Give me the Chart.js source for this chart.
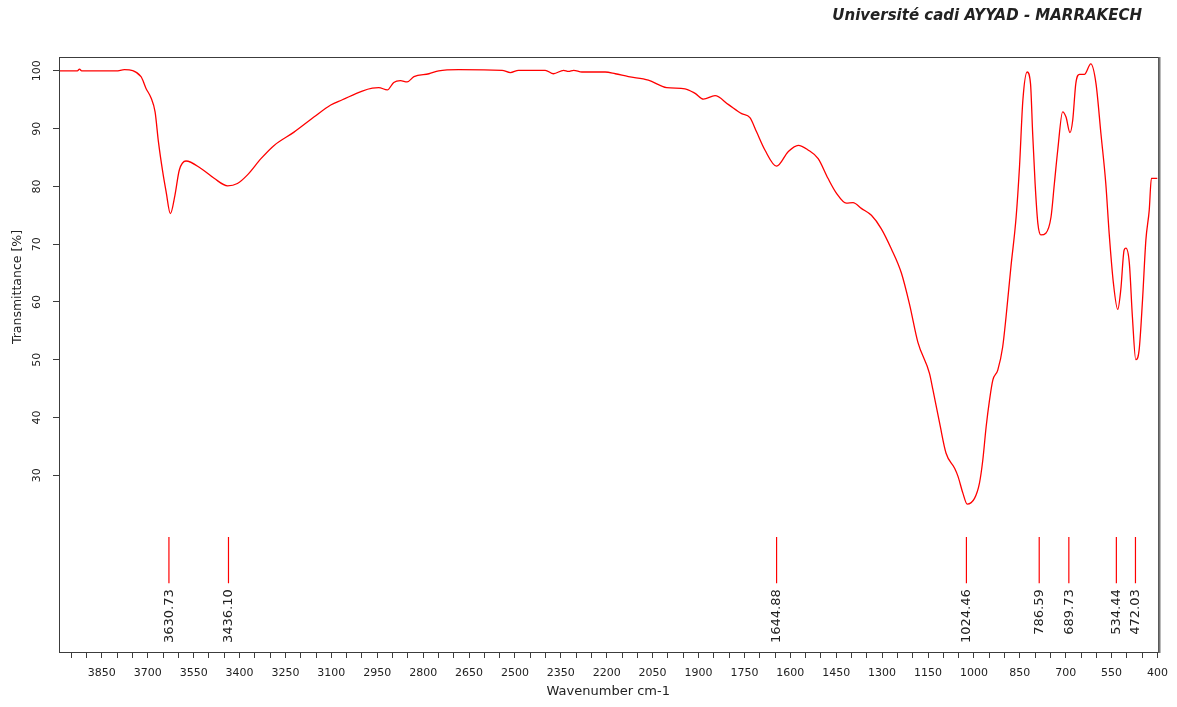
<!DOCTYPE html>
<html>
<head>
<meta charset="utf-8">
<script src="https://cdn.jsdelivr.net/npm/chart.js@4.4.1/dist/chart.umd.min.js"></script>
<style>
  html, body { margin: 0; padding: 0; background: #ffffff; }
  #wrap { width: 1177px; height: 707px; position: relative; }
</style>
</head>
<body>
<div id="wrap"><canvas id="c" width="1177" height="707"></canvas></div>
<script>
// ---- data ----
const wavenumbers = [
  3990, 3930, 3923, 3916, 3803, 3776, 3722, 3706, 3689, 3676, 3665, 3651, 3640, 3626,
  3611, 3597, 3575, 3526, 3483, 3439, 3407, 3374, 3330, 3287, 3222, 3157, 3102, 3064,
  2999, 2966, 2945, 2917, 2896, 2874, 2852, 2830, 2781, 2749, 2684, 2542, 2515, 2488,
  2401, 2374, 2341, 2325, 2308, 2281, 2205, 2172, 2129, 2064, 2004, 1944, 1911, 1884,
  1846, 1803, 1759, 1732, 1710, 1683, 1645, 1607, 1574, 1542, 1509, 1477, 1449, 1417,
  1395, 1368, 1335, 1303, 1270, 1237, 1210, 1183, 1145, 1134, 1112, 1091, 1063, 1052,
  1036, 1022, 998, 982, 971, 960, 949, 938, 922, 906, 895, 879, 862, 851,
  840, 826, 815, 808, 800, 791, 781, 765, 748, 737, 726, 710, 699, 686,
  677, 667, 655, 639, 618, 601, 585, 569, 558, 544, 530, 520, 509, 503,
  492, 482, 471, 460, 449, 438, 427, 420, 400
];
const transmittance = [
  100.0, 100.0, 100.3, 100.0, 100.0, 100.2, 99.0, 97.0, 95.3, 92.9, 87.7, 82.5, 79.1, 75.3,
  78.5, 82.8, 84.4, 83.1, 81.4, 80.1, 80.5, 82.0, 84.8, 87.1, 89.4, 92.0, 94.1, 95.0,
  96.5, 97.0, 97.1, 96.7, 98.0, 98.3, 98.1, 99.0, 99.5, 100.0, 100.2, 100.1, 99.7, 100.1,
  100.1, 99.5, 100.1, 99.9, 100.1, 99.8, 99.8, 99.5, 99.0, 98.4, 97.1, 96.9, 96.1, 95.1,
  95.7, 94.2, 92.6, 91.9, 89.4, 86.3, 83.5, 86.0, 87.1, 86.3, 84.8, 81.4, 78.8, 77.1,
  77.2, 76.2, 75.0, 72.7, 69.2, 65.0, 59.5, 53.0, 47.6, 44.8, 39.0, 33.8, 31.2, 29.8,
  26.9, 25.0, 26.0, 28.6, 32.6, 38.4, 43.0, 46.5, 48.2, 52.2, 57.4, 66.1, 74.7, 83.4,
  94.9, 99.8, 97.8, 89.2, 80.5, 73.6, 71.6, 71.9, 74.7, 80.5, 86.3, 92.9, 92.0, 89.3,
  91.5, 97.8, 99.4, 99.4, 101.2, 97.8, 89.2, 80.5, 71.9, 63.2, 58.7, 62.1, 69.0, 69.3,
  66.7, 57.4, 50.0, 51.7, 60.3, 70.7, 75.9, 81.4, 81.4
];
const peakPositions = [3630.73, 3436.10, 1644.88, 1024.46, 786.59, 689.73, 534.44, 472.03];
const peakLabels = ['3630.73', '3436.10', '1644.88', '1024.46', '786.59', '689.73', '534.44', '472.03'];
const yTickValues = [30, 40, 50, 60, 70, 80, 90, 100];
const xTickLabels = [3850, 3700, 3550, 3400, 3250, 3100, 2950, 2800, 2650, 2500, 2350, 2200,
  2050, 1900, 1750, 1600, 1450, 1300, 1150, 1000, 850, 700, 550, 400];
const xMinorTicks = [];
for (let v = 3950; v >= 400; v -= 50) xMinorTicks.push(v);

const titleText = 'Université cadi AYYAD - MARRAKECH';
const yTitleText = 'Transmittance [%]';
const xTitleText = 'Wavenumber cm-1';

// marker segments (in transmittance units, below the spectrum)
const markerTop = 19.3, markerBottom = 11.3;

const spectrum = wavenumbers.map((w, i) => ({ x: w, y: transmittance[i] }));
const markerData = [];
peakPositions.forEach(p => {
  markerData.push({ x: p, y: markerTop });
  markerData.push({ x: p, y: markerBottom });
  markerData.push({ x: p, y: null });
});

const FONT = "'DejaVu Sans', sans-serif";
const TXT = '#222222';

const decor = {
  id: 'decor',
  afterDatasetsDraw(chart) {
    const { ctx, chartArea: a, scales } = chart;
    const xs = scales.x, ys = scales.y;
    ctx.save();
    // frame
    ctx.strokeStyle = '#3c3c3c';
    ctx.lineWidth = 1;
    ctx.strokeRect(Math.round(a.left) + 0.5, Math.round(a.top) + 0.5,
      Math.round(a.right - a.left), Math.round(a.bottom - a.top));
    ctx.strokeStyle = '#777777';
    ctx.lineWidth = 2;
    ctx.beginPath();
    ctx.moveTo(Math.round(a.right) + 1.5, a.top);
    ctx.lineTo(Math.round(a.right) + 1.5, a.bottom + 1);
    ctx.stroke();
    // peak labels
    ctx.fillStyle = TXT;
    ctx.font = "13px " + FONT;
    ctx.textAlign = 'right';
    ctx.textBaseline = 'middle';
    const yAnchor = ys.getPixelForValue(markerBottom) + 6;
    peakPositions.forEach((p, i) => {
      const px = xs.getPixelForValue(p);
      ctx.save();
      ctx.translate(px + 0.5, yAnchor);
      ctx.rotate(-Math.PI / 2);
      ctx.fillText(peakLabels[i], 0, 0);
      ctx.restore();
    });
    ctx.restore();
  },
  afterDraw(chart) {
    const { ctx } = chart;
    ctx.save();
    ctx.fillStyle = TXT;
    // top-right title
    ctx.font = "italic bold 15px 'DejaVu Sans', sans-serif";
    ctx.textAlign = 'right';
    ctx.textBaseline = 'middle';
    ctx.fillText(titleText, 1142, 16);
    // y-axis title
    ctx.font = "12.5px " + FONT;
    ctx.textAlign = 'center';
    ctx.translate(18, 287);
    ctx.rotate(-Math.PI / 2);
    ctx.fillText(yTitleText, 0, 0);
    ctx.restore();
  }
};

new Chart(document.getElementById('c'), {
  type: 'line',
  data: {
    datasets: [
      {
        data: spectrum,
        borderColor: '#ff0000',
        borderWidth: 1.3,
        pointRadius: 0,
        cubicInterpolationMode: 'monotone',
        fill: false
      },
      {
        data: markerData,
        borderColor: '#ff0000',
        borderWidth: 1.2,
        pointRadius: 0,
        spanGaps: false,
        tension: 0,
        fill: false
      }
    ]
  },
  options: {
    responsive: false,
    animation: false,
    devicePixelRatio: 1,
    layout: { padding: { left: 0, right: 17, top: 57, bottom: 0 } },
    plugins: { legend: { display: false }, tooltip: { enabled: false }, title: { display: false } },
    scales: {
      x: {
        type: 'linear',
        reverse: true,
        min: 400,
        max: 3990,
        afterBuildTicks: (s) => { s.ticks = xMinorTicks.map(v => ({ value: v })); },
        afterFit: (s) => { s.height = 55; },
        ticks: {
          autoSkip: false,
          maxRotation: 0,
          minRotation: 0,
          padding: 9,
          color: TXT,
          font: { family: FONT, size: 11 },
          callback: (v) => (xTickLabels.includes(v) ? String(v) : '')
        },
        grid: { drawOnChartArea: false, tickLength: 6, color: '#3c3c3c' },
        border: { display: false },
        title: {
          display: true,
          text: xTitleText,
          color: TXT,
          font: { family: FONT, size: 13 },
          padding: { top: 0, bottom: 8 }
        }
      },
      y: {
        type: 'linear',
        min: -0.6,
        max: 102.4,
        afterBuildTicks: (s) => { s.ticks = yTickValues.map(v => ({ value: v })); },
        afterFit: (s) => { s.width = 59; },
        ticks: {
          minRotation: 90,
          maxRotation: 90,
          crossAlign: 'center',
          padding: 5,
          color: TXT,
          font: { family: FONT, size: 11 }
        },
        grid: { drawOnChartArea: false, tickLength: 6, color: '#3c3c3c' },
        border: { display: false }
      }
    }
  },
  plugins: [decor]
});
</script>
</body>
</html>
